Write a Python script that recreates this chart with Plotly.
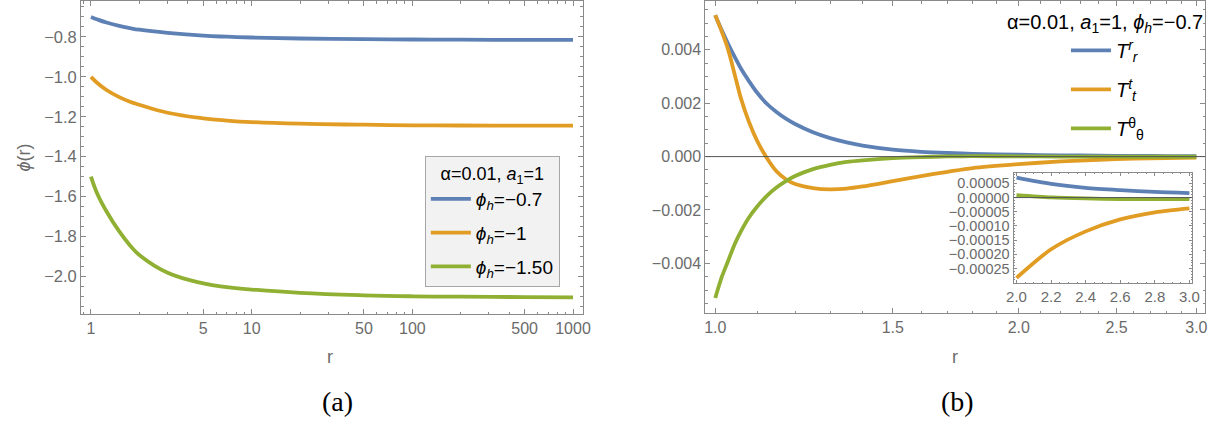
import numpy as np
import plotly.graph_objects as go

# ---------------- panel (a): scalar field profiles phi(r) ----------------
r_a = [1, 1.1, 1.25, 1.5, 1.75, 2, 3, 5, 7, 10, 20, 50, 100, 200, 500, 1000]
phi_h07 = [-0.700, -0.713, -0.728, -0.745, -0.756, -0.764, -0.780, -0.794,
           -0.799, -0.803, -0.808, -0.811, -0.813, -0.814, -0.815, -0.815]
phi_h10 = [-1.000, -1.032, -1.066, -1.102, -1.125, -1.140, -1.180, -1.208,
           -1.219, -1.227, -1.235, -1.240, -1.243, -1.244, -1.245, -1.245]
phi_h15 = [-1.500, -1.590, -1.675, -1.775, -1.845, -1.893, -1.982, -2.035,
           -2.054, -2.066, -2.083, -2.095, -2.100, -2.102, -2.104, -2.105]
names_a = ["<i>ϕ</i><sub><i>h</i></sub>=−0.7",
           "<i>ϕ</i><sub><i>h</i></sub>=−1",
           "<i>ϕ</i><sub><i>h</i></sub>=−1.50"]
title_a = "α=0.01, <i>a</i><sub>1</sub>=1"
xt_a = [1, 5, 10, 50, 100, 500, 1000]
xt_a_text = ["1", "5", "10", "50", "100", "500", "1000"]
xminor_a = [0.9, 2, 3, 4, 6, 7, 8, 9, 20, 30, 40, 60, 70, 80, 90,
            200, 300, 400, 600, 700, 800, 900]
yt_a = [-2.0, -1.8, -1.6, -1.4, -1.2, -1.0, -0.8]

# ---------------- panel (b): energy-momentum components ----------------
r_b = [1.0, 1.015, 1.03, 1.045, 1.06, 1.08, 1.1, 1.125, 1.15, 1.175, 1.2,
       1.25, 1.3, 1.35, 1.4, 1.5, 1.6, 1.7, 1.8,
       2.0, 2.2, 2.4, 2.6, 2.8, 3.0]
T_rr = [0.00530, 0.00473, 0.00422, 0.00375, 0.00331, 0.00283, 0.00240,
        0.00198, 0.00167, 0.00142, 0.00122, 0.00091, 0.00069, 0.00053,
        0.00041, 0.00026, 0.00018, 0.000135, 0.000105,
        0.000070, 0.000048, 0.000034, 0.000026, 0.000020, 0.000016]
T_tt = [0.00530, 0.00468, 0.00400, 0.00310, 0.00220, 0.00130, 0.00060,
        -0.00005, -0.00055, -0.00085, -0.00103, -0.00118, -0.00123, -0.00120,
        -0.00112, -0.00092, -0.00073, -0.00057, -0.00043,
        -0.000283, -0.000182, -0.000119, -0.000077, -0.000052, -0.000038]
T_thth = [-0.00530, -0.00451, -0.00390, -0.00329, -0.00281, -0.00228, -0.00188,
          -0.00147, -0.00116, -0.00092, -0.00073, -0.00047, -0.00031, -0.00020,
          -0.00014, -0.00006, -0.00002, 0.000005, 0.000014,
          0.000009, 0.000001, -0.000003, -0.000005, -0.000005, -0.000005]
names_b = ["<i>T</i><sup><i>r</i></sup><sub><i>r</i></sub>",
           "<i>T</i><sup><i>t</i></sup><sub><i>t</i></sub>",
           "<i>T</i><sup>θ</sup><sub>θ</sub>"]
title_b = "α=0.01, <i>a</i><sub>1</sub>=1, <i>ϕ</i><sub><i>h</i></sub>=−0.7"
xt_b = [1.0, 1.5, 2.0, 2.5, 3.0]
xt_b_text = ["1.0", "1.5", "2.0", "2.5", "3.0"]
xminor_b = [1.1, 1.2, 1.3, 1.4, 1.6, 1.7, 1.8, 1.9, 2.1, 2.2, 2.3, 2.4,
            2.6, 2.7, 2.8, 2.9]
yt_b = [-0.004, -0.002, 0.0, 0.002, 0.004]
xt_inset = [2.0, 2.2, 2.4, 2.6, 2.8, 3.0]
yt_inset = [-0.00025, -0.0002, -0.00015, -0.0001, -0.00005, 0.0, 0.00005]

# ---------------- style ----------------
W, H = 1231, 425
COLORS = ["#5E81B5", "#E19C24", "#8FB032"]
FRAME = "#8a8a8a"
TICK = "#6b6b6b"
FONT = "Liberation Sans"
LW = 3.8


def px(x):
    return x / W


def py(y):
    return (H - y) / H


def frame_axis(**kw):
    d = dict(showline=True, linecolor=FRAME, linewidth=1, mirror="allticks",
             ticks="inside", ticklen=5, tickcolor=FRAME, tickwidth=1,
             showgrid=False, zeroline=False,
             tickfont=dict(family=FONT, size=16, color=TICK))
    d.update(kw)
    return d


def minor(**kw):
    d = dict(ticks="inside", ticklen=2.5, tickcolor=FRAME, tickwidth=1,
             showgrid=False)
    d.update(kw)
    return d


fig = go.Figure()

for name, vals, col in zip(names_a, [phi_h07, phi_h10, phi_h15], COLORS):
    fig.add_trace(go.Scatter(
        x=r_a, y=vals, mode="lines", name=name, legendgroup=name,
        line=dict(color=col, width=LW, shape="spline", smoothing=1.2),
        xaxis="x", yaxis="y", legend="legend"))

for name, vals, col in zip(names_b, [T_rr, T_tt, T_thth], COLORS):
    fig.add_trace(go.Scatter(
        x=r_b, y=vals, mode="lines", name=name, legendgroup=name,
        line=dict(color=col, width=LW, shape="spline", smoothing=0.8),
        xaxis="x2", yaxis="y2", legend="legend2"))

# inset: tail of the same curves for r >= 2
rb = np.array(r_b)
mask = rb >= 2.0
for vals, col in zip([T_rr, T_tt, T_thth], COLORS):
    fig.add_trace(go.Scatter(
        x=rb[mask], y=np.array(vals)[mask], mode="lines", showlegend=False,
        line=dict(color=col, width=LW, shape="spline", smoothing=0.8),
        xaxis="x3", yaxis="y3"))

fig.update_layout(
    width=W, height=H,
    margin=dict(l=0, r=0, t=0, b=0),
    paper_bgcolor="white", plot_bgcolor="white",
    xaxis=frame_axis(type="log", domain=[px(75), px(583)],
                     range=[-0.0615, 3.0615], tickvals=xt_a, ticktext=xt_a_text,
                     minor=minor(tickvals=xminor_a), anchor="y"),
    yaxis=frame_axis(domain=[py(314), 1.0], range=[-2.19, -0.62],
                     tickvals=yt_a, tickformat=".1f",
                     tickfont=dict(family=FONT, size=16.5, color=TICK),
                     minor=minor(dtick=0.05), anchor="x"),
    xaxis2=frame_axis(type="log", domain=[px(707), px(1213)],
                      range=[-0.0098, 0.4859], tickvals=xt_b, ticktext=xt_b_text,
                      minor=minor(tickvals=xminor_b), anchor="y2"),
    yaxis2=frame_axis(domain=[py(313), 1.0], range=[-0.00587, 0.00583],
                      tickvals=yt_b, tickformat=".3f",
                      minor=minor(dtick=0.0005), anchor="x2"),
    xaxis3=frame_axis(domain=[px(1019), px(1200)], range=[1.983, 3.017],
                      tickvals=xt_inset, tickformat=".1f", ticklen=3,
                      tickfont=dict(family=FONT, size=15, color=TICK),
                      minor=minor(dtick=0.05, ticklen=1.5), anchor="y3"),
    yaxis3=frame_axis(domain=[py(283), py(172)], range=[-0.000302, 0.000088],
                      tickvals=yt_inset, tickformat=".5f", ticklen=3,
                      tickfont=dict(family=FONT, size=14.5, color=TICK),
                      minor=minor(dtick=0.00001, ticklen=1.5), anchor="x3"),
    legend=dict(x=px(423), y=py(155), xanchor="left", yanchor="top",
                bgcolor="#f2f2f2", bordercolor="#a6a6a6", borderwidth=1,
                font=dict(family=FONT, size=19, color="black"),
                itemwidth=40, entrywidth=100, entrywidthmode="pixels",
                title=dict(text=title_a, side="top center",
                           font=dict(family=FONT, size=18, color="black")),
                tracegroupgap=6),
    legend2=dict(x=px(1072), y=py(30), xanchor="left", yanchor="top",
                 bgcolor="rgba(0,0,0,0)", borderwidth=0,
                 font=dict(family=FONT, size=20, color="black"),
                 itemwidth=40, tracegroupgap=10),
    showlegend=True,
)

# reference lines at zero in panel (b) and its inset
for xa, ya in [("x2", "y2"), ("x3", "y3")]:
    fig.add_shape(type="line", xref=f"{xa} domain", yref=ya, x0=0, x1=1,
                  y0=0, y1=0, line=dict(color="#555555", width=1), layer="above")

lab = dict(family=FONT, size=18, color=TICK)
ann = [
    dict(text="<i>ϕ</i>(r)", x=px(17), y=py(157), textangle=-90, font=lab),
    dict(text="r", x=px(327), y=py(357), font=lab),
    dict(text="r", x=px(960), y=py(357), font=lab),
    dict(text="(a)", x=px(335), y=py(401),
         font=dict(family="Liberation Serif", size=28, color="black")),
    dict(text="(b)", x=px(962), y=py(401),
         font=dict(family="Liberation Serif", size=28, color="black")),
]
for a in ann:
    fig.add_annotation(xref="paper", yref="paper", showarrow=False,
                       xanchor="center", yanchor="middle", **a)
fig.add_annotation(text=title_b, xref="paper", yref="paper", x=px(1213),
                   y=py(23), xanchor="right", yanchor="middle", showarrow=False,
                   font=dict(family=FONT, size=20, color="black"))

fig.write_html("out.html")
